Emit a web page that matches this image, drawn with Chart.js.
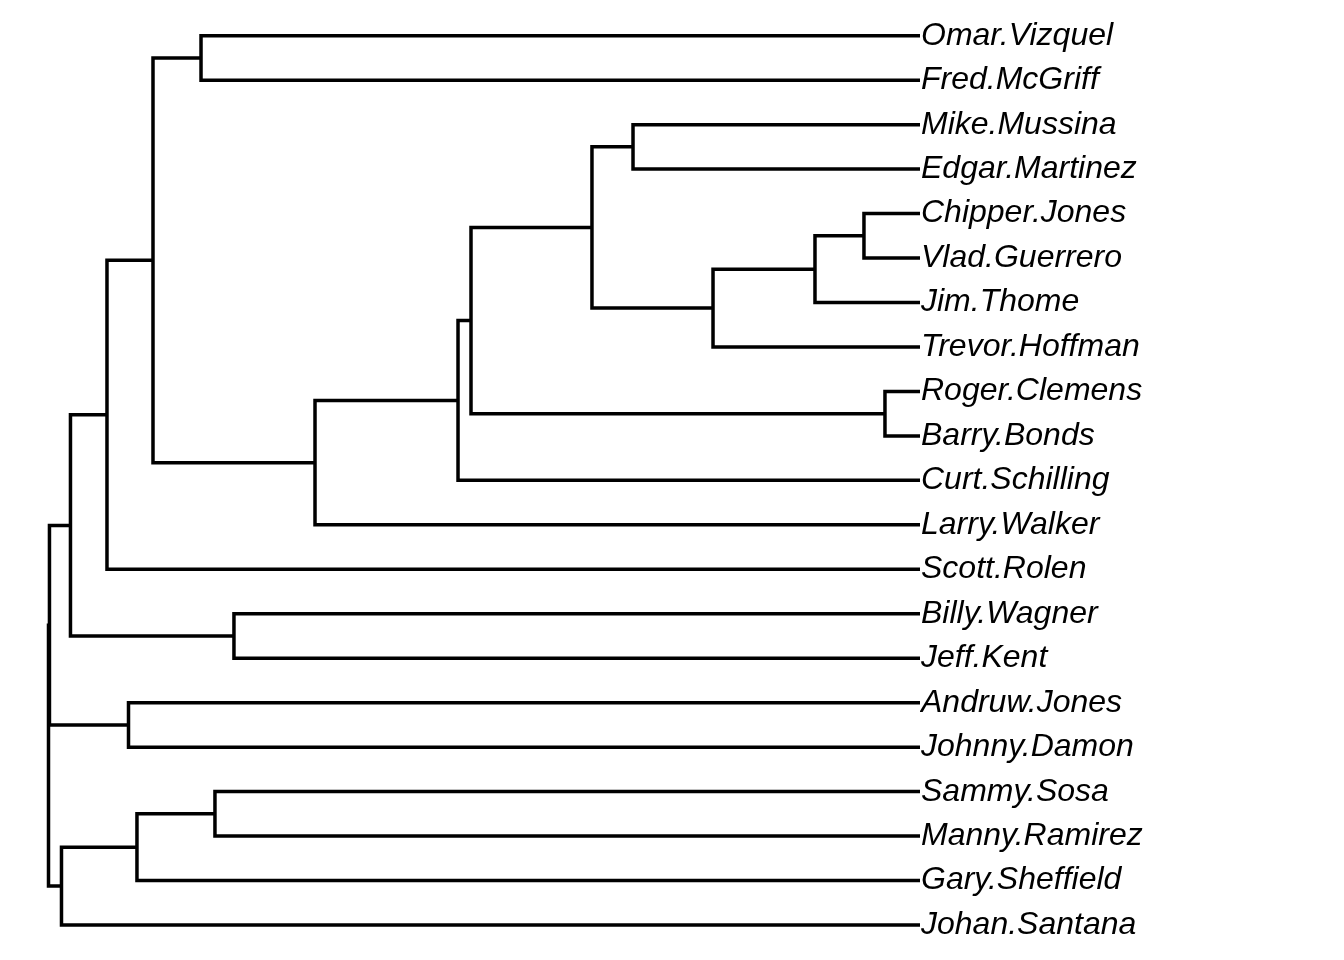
<!DOCTYPE html>
<html>
<head>
<meta charset="utf-8">
<script src="https://cdn.jsdelivr.net/npm/chart.js@4.4.1/dist/chart.umd.min.js"></script>
<style>
  html, body { margin: 0; padding: 0; background: #fff; }
  #wrap { width: 1344px; height: 960px; }
</style>
</head>
<body>
<div id="wrap"><canvas id="dendro"></canvas></div>
<script>
// leaves, top to bottom
const leafLabels = ['Omar.Vizquel', 'Fred.McGriff', 'Mike.Mussina', 'Edgar.Martinez', 'Chipper.Jones',
  'Vlad.Guerrero', 'Jim.Thome', 'Trevor.Hoffman', 'Roger.Clemens', 'Barry.Bonds', 'Curt.Schilling',
  'Larry.Walker', 'Scott.Rolen', 'Billy.Wagner', 'Jeff.Kent', 'Andruw.Jones', 'Johnny.Damon',
  'Sammy.Sosa', 'Manny.Ramirez', 'Gary.Sheffield', 'Johan.Santana'];

// hclust style merges: negative = leaf (1-based), positive = earlier merge step
const mergeLeft  = [-5, -9, 1, 3, -3, 5, 6, 7, 8, -14, -18, -1, 12, 11, -16, 13, 16, 14, 17, 19];
const mergeRight = [-6, -10, -7, -8, -4, 4, 2, -11, -12, -15, -19, -2, 9, -20, -17, -13, 10, -21, 15, 18];
const mergeHeight = [0.643, 0.402, 1.205, 2.375, 3.293, 3.764, 5.152, 5.301, 6.942, 7.872,
  8.09, 8.25, 8.801, 8.985, 9.082, 9.329, 9.748, 9.851, 9.989, 10.0];

// position + height of a node
function nodeInfo(id, pos) {
  if (id < 0) return { y: -id - 1, h: 0 };
  return pos[id - 1];
}

const nodePos = [];
const segments = [];
for (let i = 0; i < mergeLeft.length; i++) {
  const a = nodeInfo(mergeLeft[i], nodePos);
  const b = nodeInfo(mergeRight[i], nodePos);
  const h = mergeHeight[i];
  nodePos.push({ y: (a.y + b.y) / 2, h: h });
  segments.push({
    data: [{ x: a.h, y: a.y }, { x: h, y: a.y }, { x: h, y: b.y }, { x: b.h, y: b.y }],
    borderColor: '#000',
    borderWidth: 3.5,
    borderJoinStyle: 'miter',
    pointRadius: 0,
    fill: false,
    tension: 0,
    clip: false
  });
}

new Chart(document.getElementById('dendro'), {
  type: 'line',
  data: { datasets: segments },
  options: {
    responsive: true,
    maintainAspectRatio: false,
    animation: false,
    layout: { padding: { left: 48.5, top: 35.7, bottom: 35, right: 0 } },
    plugins: {
      legend: { display: false },
      tooltip: { enabled: false }
    },
    scales: {
      x: {
        type: 'linear',
        reverse: true,
        min: 0,
        max: 10,
        display: false
      },
      y: {
        type: 'linear',
        position: 'right',
        reverse: true,
        min: 0,
        max: 20,
        afterFit: (s) => { s.width = 424; },
        grid: { display: false, drawTicks: false },
        border: { display: false },
        ticks: {
          stepSize: 1,
          autoSkip: false,
          padding: 1,
          color: '#000',
          font: { family: '"Liberation Sans", Arial, sans-serif', size: 32, style: 'italic' },
          callback: (v) => leafLabels[v]
        }
      }
    }
  }
});
</script>
</body>
</html>
